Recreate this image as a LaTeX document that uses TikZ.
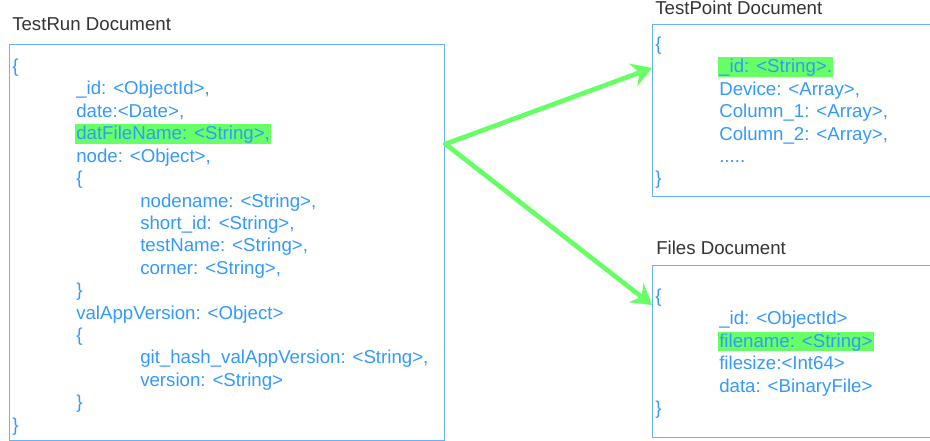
\documentclass[tikz,border=0pt]{standalone}
\usepackage{fontspec}
\setmainfont{Liberation Sans}
\usetikzlibrary{arrows.meta, positioning, calc}
\definecolor{docblue}{HTML}{3399FF}
\definecolor{frameblue}{HTML}{66B2FF}
\definecolor{linkgreen}{HTML}{66FF66}
\definecolor{titlegray}{HTML}{333333}
\newcommand{\hlfield}[1]{\kern-0.75pt{\setlength{\fboxsep}{0pt}\colorbox{linkgreen}{\rule[-2.4pt]{0pt}{14.2pt}\kern0.75pt#1\kern1pt}}}
\newcommand{\ind}{\hspace*{48pt}}
\tikzset{
    docbox/.style={draw=frameblue, line width=1pt, inner sep=0pt, anchor=north west},
    doctitle/.style={text=titlegray, font=\fontsize{14}{16.8}\selectfont, inner sep=0pt, anchor=base west},
    doctext/.style={text=docblue, font=\fontsize{14}{16.8}\selectfont, align=left, inner sep=0pt, anchor=base west},
    link/.style={-{Stealth[length=15pt, width=18pt, inset=5pt]}, line width=3.5pt, line cap=round, linkgreen}
}

\begin{document}
\begin{tikzpicture}[x=0.75pt, y=-0.75pt]
    \useasboundingbox (0,0) rectangle (930,441);
    \clip (0,0) rectangle (930,441);
    % document boxes (the two on the right run past the edge)
    \node [docbox, minimum width=326.25pt, minimum height=297pt] (testrun) at (9,44) {};
    \node [docbox, minimum width=300pt, minimum height=129pt] (testpoint) at (652,24) {};
    \node [docbox, minimum width=300pt, minimum height=129pt] (files) at (652,265) {};
    % titles
    \node [doctitle] (testruntitle) at ($(testrun.north west)+(3,-13)$) {TestRun Document};
    \node [doctitle] (testpointtitle) at ($(testpoint.north west)+(3,-9)$) {TestPoint Document};
    \node [doctitle] (filestitle) at ($(files.north west)+(4,-10)$) {Files Document};
    % fields (anchored at the baseline of the last line)
    \node [doctext] (testrunfields) at ($(testrun.north west)+(3,387)$) {%
        \{\\
        \ind\_id: <ObjectId>,\\
        \ind date:<Date>,\\
        \ind\hlfield{datFileName: <String>,}\\
        \ind node: <Object>,\\
        \ind\{\\
        \ind\ind nodename: <String>,\\
        \ind\ind short\_id: <String>,\\
        \ind\ind testName: <String>,\\
        \ind\ind corner: <String>,\\
        \ind\}\\
        \ind valAppVersion: <Object>\\
        \ind\{\\
        \ind\ind git\_hash\_valAppVersion: <String>,\\
        \ind\ind version: <String>\\
        \ind\}\\
        \}};
    \node [doctext] (testpointfields) at ($(testpoint.north west)+(3,161)$) {%
        \{\\
        \ind\hlfield{\_id: <String>.}\\
        \ind Device: <Array>,\\
        \ind Column\_1: <Array>,\\
        \ind Column\_2: <Array>,\\
        \ind .....\\
        \}};
    \node [doctext] (filesfields) at ($(files.north west)+(3,149.5)$) {%
        \{\\
        \ind\_id: <ObjectId>\\
        \ind\hlfield{filename: <String>}\\
        \ind filesize:<Int64>\\
        \ind data: <BinaryFile>\\
        \}};
    % links
    \coordinate (fork) at ($(testrun.north east)+(0,100)$);
    \draw [link] (fork) -- ($(testpoint.north west)+(0,44)$);
    \draw [link] (fork) -- ($(files.north west)+(0,40)$);
\end{tikzpicture}
\end{document}
